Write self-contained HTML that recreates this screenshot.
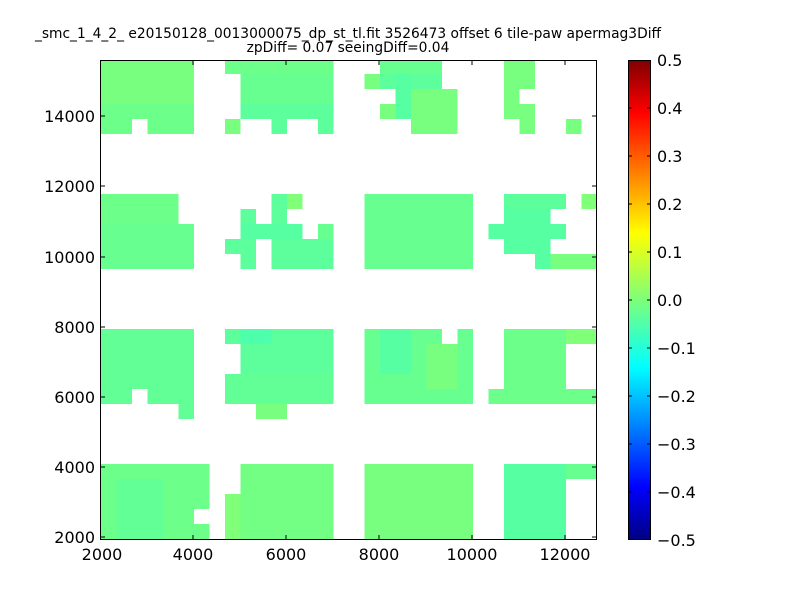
<!DOCTYPE html>
<html><head><meta charset="utf-8"><style>
body{margin:0;background:#fff;width:800px;height:600px;overflow:hidden}
svg text{font-family:"DejaVu Sans","Liberation Sans",sans-serif}
</style></head><body>
<svg width="800" height="600" viewBox="0 0 800 600" xmlns="http://www.w3.org/2000/svg">
<defs>
<clipPath id="pc"><rect x="100" y="60" width="497" height="480"/></clipPath>
<linearGradient id="jet" x1="0" y1="0" x2="0" y2="1">
<stop offset="0" stop-color="#800000"/><stop offset="0.11" stop-color="#ff0000"/>
<stop offset="0.36" stop-color="#ffff00"/><stop offset="0.5" stop-color="#7dff7a"/>
<stop offset="0.64" stop-color="#00ffff"/><stop offset="0.89" stop-color="#0000ff"/>
<stop offset="1" stop-color="#000080"/></linearGradient>
</defs>
<text x="348" y="38" font-size="13.8" text-anchor="middle">_smc_1_4_2_ e20150128_0013000075_dp_st_tl.fit 3526473 offset 6 tile-paw apermag3Diff</text>
<text x="348" y="52" font-size="13.8" text-anchor="middle">zpDiff= 0.07 seeingDiff=0.04</text>
<g clip-path="url(#pc)"><g transform="translate(101,59) scale(15.5,15)" shape-rendering="crispEdges">
<rect x="0" y="0" width="6" height="3" fill="#78ff80"/><rect x="0" y="3" width="6" height="1" fill="#6cff8a"/>
<rect x="0" y="4" width="2" height="1" fill="#6cff8a"/><rect x="3" y="4" width="3" height="1" fill="#6cff8a"/>
<rect x="8" y="0" width="7" height="1" fill="#6cff8a"/><rect x="9" y="1" width="6" height="2" fill="#66ff90"/><rect x="9" y="3" width="6" height="1" fill="#5cff9c"/>
<rect x="8" y="4" width="1" height="1" fill="#78ff80"/><rect x="11" y="4" width="1" height="1" fill="#5cff9c"/><rect x="14" y="4" width="1" height="1" fill="#5cff9c"/>
<rect x="18" y="0" width="4" height="1" fill="#66ff90"/><rect x="17" y="1" width="1" height="1" fill="#78ff80"/><rect x="18" y="1" width="4" height="1" fill="#5cff9c"/>
<rect x="19" y="2" width="4" height="1" fill="#78ff80"/><rect x="18" y="3" width="5" height="1" fill="#78ff80"/><rect x="20" y="4" width="3" height="1" fill="#78ff80"/>
<rect x="19" y="1" width="1" height="3" fill="#55ffa2"/>
<rect x="26" y="0" width="2" height="2" fill="#78ff80"/><rect x="26" y="2" width="1" height="1" fill="#78ff80"/><rect x="26" y="3" width="2" height="1" fill="#78ff80"/>
<rect x="27" y="4" width="1" height="1" fill="#78ff80"/><rect x="30" y="4" width="1" height="1" fill="#78ff80"/>
<rect x="0" y="9" width="5" height="2" fill="#6cff8a"/><rect x="0" y="11" width="6" height="3" fill="#66ff90"/>
<rect x="11" y="9" width="1" height="1" fill="#5cff9c"/><rect x="12" y="9" width="1" height="1" fill="#80ff78"/>
<rect x="9" y="10" width="1" height="1" fill="#5cff9c"/><rect x="11" y="10" width="1" height="1" fill="#5cff9c"/>
<rect x="9" y="11" width="4" height="1" fill="#55ffa2"/><rect x="14" y="11" width="1" height="1" fill="#66ff90"/>
<rect x="8" y="12" width="2" height="1" fill="#5cff9c"/><rect x="11" y="12" width="4" height="1" fill="#5cff9c"/>
<rect x="9" y="13" width="1" height="1" fill="#5cff9c"/><rect x="11" y="13" width="4" height="1" fill="#5cff9c"/>
<rect x="17" y="9" width="7" height="5" fill="#66ff90"/>
<rect x="26" y="9" width="4" height="1" fill="#5cff9c"/><rect x="31" y="9" width="1" height="1" fill="#80ff78"/>
<rect x="26" y="10" width="3" height="1" fill="#55ffa2"/><rect x="25" y="11" width="5" height="1" fill="#55ffa2"/>
<rect x="26" y="12" width="3" height="1" fill="#55ffa2"/><rect x="28" y="13" width="1" height="1" fill="#55ffa2"/><rect x="29" y="13" width="3" height="1" fill="#78ff80"/>
<rect x="0" y="18" width="6" height="4" fill="#62ff96"/><rect x="0" y="22" width="2" height="1" fill="#62ff96"/><rect x="3" y="22" width="3" height="1" fill="#62ff96"/><rect x="5" y="23" width="1" height="1" fill="#62ff96"/>
<rect x="8" y="18" width="7" height="1" fill="#5cff9c"/><rect x="9" y="19" width="6" height="2" fill="#5cff9c"/><rect x="8" y="21" width="7" height="2" fill="#62ff96"/>
<rect x="9" y="18" width="2" height="1" fill="#4dffac"/>
<rect x="10" y="23" width="2" height="1" fill="#78ff80"/>
<rect x="17" y="18" width="5" height="1" fill="#66ff90"/><rect x="23" y="18" width="1" height="1" fill="#66ff90"/><rect x="17" y="19" width="7" height="4" fill="#66ff90"/>
<rect x="18" y="18" width="2" height="3" fill="#55ffa2"/><rect x="21" y="19" width="2" height="3" fill="#78ff80"/>
<rect x="26" y="18" width="4" height="4" fill="#6cff8a"/><rect x="30" y="18" width="2" height="1" fill="#80ff78"/><rect x="25" y="22" width="7" height="1" fill="#6cff8a"/>
<rect x="0" y="27" width="7" height="5" fill="#6cff8a"/><rect x="6" y="30" width="1" height="1" fill="#fff"/>
<rect x="1" y="28" width="3" height="4" fill="#62ff96"/>
<rect x="8" y="29" width="1" height="3" fill="#80ff78"/><rect x="9" y="27" width="6" height="5" fill="#72ff84"/>
<rect x="17" y="27" width="7" height="5" fill="#78ff80"/>
<rect x="26" y="27" width="4" height="5" fill="#55ffa2"/><rect x="30" y="27" width="2" height="1" fill="#66ff90"/>
</g></g>
<rect x="100.5" y="60.5" width="496" height="479" fill="none" stroke="#000" stroke-width="1"/>
<g stroke="#000" stroke-width="1">
<path d="M193,540v-5M286,540v-5M379,540v-5M472,540v-5M565,540v-5M193,60v5M286,60v5M379,60v5M472,60v5M565,60v5"/>
<path d="M100,537h5M100,467h5M100,397h5M100,327h5M100,257h5M100,186h5M100,116h5M597,537h-5M597,467h-5M597,397h-5M597,327h-5M597,257h-5M597,186h-5M597,116h-5"/>
</g>
<g font-size="16" text-anchor="end">
<text x="95" y="543">2000</text><text x="95" y="473">4000</text><text x="95" y="403">6000</text><text x="95" y="333">8000</text><text x="95" y="263">10000</text><text x="95" y="192">12000</text><text x="95" y="122">14000</text>
</g>
<g font-size="16" text-anchor="middle">
<text x="102" y="560">2000</text><text x="193" y="560">4000</text><text x="286" y="560">6000</text><text x="379" y="560">8000</text><text x="472" y="560">10000</text><text x="565" y="560">12000</text>
</g>
<rect x="628" y="60" width="23" height="480" fill="url(#jet)"/>
<rect x="628.5" y="60.5" width="22" height="479" fill="none" stroke="#000"/>
<g stroke="#000"><path d="M628,108h4M628,156h4M628,204h4M628,252h4M628,300h4M628,348h4M628,396h4M628,444h4M628,492h4M651,108h-4M651,156h-4M651,204h-4M651,252h-4M651,300h-4M651,348h-4M651,396h-4M651,444h-4M651,492h-4"/></g>
<g font-size="16">
<text x="657" y="66">0.5</text><text x="657" y="114">0.4</text><text x="657" y="162">0.3</text><text x="657" y="210">0.2</text><text x="657" y="258">0.1</text><text x="657" y="306">0.0</text>
<text x="657" y="354">−0.1</text><text x="657" y="402">−0.2</text><text x="657" y="450">−0.3</text><text x="657" y="498">−0.4</text><text x="657" y="546">−0.5</text>
</g>
</svg>
</body></html>
